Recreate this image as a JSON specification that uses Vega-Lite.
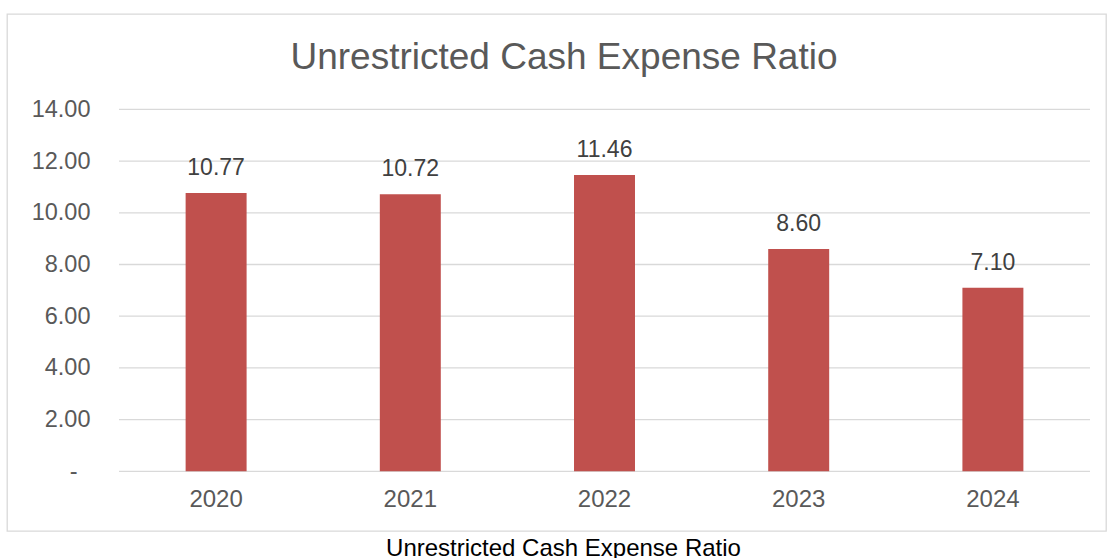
{
  "$schema": "https://vega.github.io/schema/vega-lite/v6.json",
  "width": 1099,
  "height": 517,
  "autosize": {"type": "none"},
  "padding": {"left": 7, "top": 14, "right": 2, "bottom": 27},
  "background": "white",
  "config": {
    "view": {"stroke": "#d9d9d9", "strokeWidth": 1.3},
    "font": "Liberation Sans"
  },
  "title": {
    "text": "Unrestricted Cash Expense Ratio",
    "fontSize": 37,
    "font": "Liberation Sans",
    "fontWeight": "normal",
    "color": "#595959",
    "anchor": "middle",
    "frame": "group",
    "offset": 0,
    "baseline": "alphabetic",
    "dy": 92,
    "dx": 7.5
  },
  "data": {
    "values": [
      {"year": "2020", "ratio": 10.77},
      {"year": "2021", "ratio": 10.72},
      {"year": "2022", "ratio": 11.46},
      {"year": "2023", "ratio": 8.60},
      {"year": "2024", "ratio": 7.10}
    ]
  },
  "layer": [
    {
      "data": {"values": [{"g": 0}, {"g": 2}, {"g": 4}, {"g": 6}, {"g": 8}, {"g": 10}, {"g": 12}, {"g": 14}]},
      "mark": {"type": "rule", "color": "#d9d9d9", "strokeWidth": 1.3},
      "encoding": {
        "y": {"field": "g", "type": "quantitative", "title": null},
        "x": {"datum": "2020", "type": "ordinal", "bandPosition": 0},
        "x2": {"datum": "2024", "bandPosition": 1}
      }
    },
    {
      "mark": {"type": "bar", "color": "#c0504d", "width": {"band": 0.314}},
      "encoding": {
        "x": {
          "field": "year",
          "type": "ordinal",
          "scale": {"paddingInner": 0, "paddingOuter": 0.3296, "align": 0.875},
          "axis": {
            "orient": "bottom",
            "offset": -59.7,
            "bandPosition": 0.5,
            "labelAngle": 0,
            "labelAlign": "center",
            "ticks": false,
            "domain": false,
            "grid": false,
            "labelPadding": 28,
            "labelFontSize": 24,
            "labelColor": "#595959",
            "labelFont": "Liberation Sans",
            "title": "Unrestricted Cash Expense Ratio",
            "titleFont": "Liberation Sans",
            "titleFontSize": 24,
            "titleFontWeight": "normal",
            "titleColor": "#000000",
            "titleBaseline": "top",
            "titleY": 65,
            "titleX": 556
          }
        },
        "y": {
          "field": "ratio",
          "type": "quantitative",
          "scale": {"domain": [-2.31, 17.69], "nice": false, "zero": false},
          "axis": {
            "orient": "left",
            "offset": -112,
            "values": [0, 2, 4, 6, 8, 10, 12, 14],
            "labelExpr": "datum.value == 0 ? '-' : format(datum.value, '.2f')",
            "grid": false,
            "ticks": false,
            "domain": false,
            "labelPadding": {"condition": {"test": "datum.value == 0", "value": 42}, "value": 29},
            "labelFontSize": 23.5,
            "labelColor": "#595959",
            "labelFont": "Liberation Sans",
            "title": null
          }
        }
      }
    },
    {
      "mark": {"type": "text", "baseline": "alphabetic", "dy": -18, "fontSize": 23, "color": "#404040", "font": "Liberation Sans"},
      "encoding": {
        "x": {"field": "year", "type": "ordinal"},
        "y": {"field": "ratio", "type": "quantitative", "title": null},
        "text": {"field": "ratio", "type": "quantitative", "format": ".2f"}
      }
    }
  ]
}
